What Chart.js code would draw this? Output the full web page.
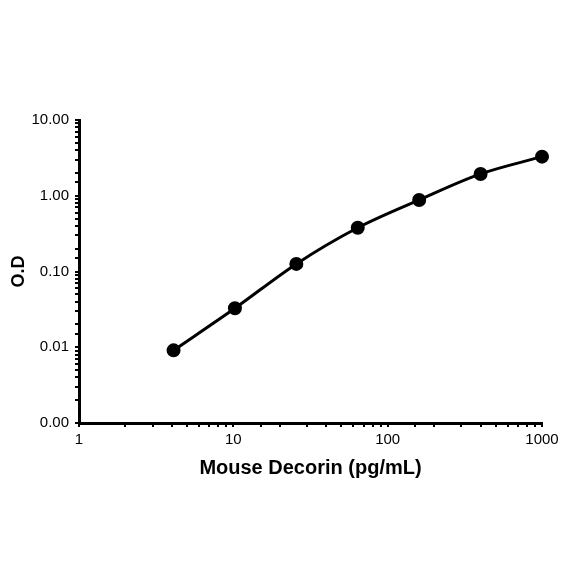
<!DOCTYPE html>
<html>
<head>
<meta charset="utf-8">
<script src="https://cdn.jsdelivr.net/npm/chart.js@4"></script>
<style>
  html, body { margin: 0; padding: 0; background: #fff; }
  #wrap { width: 584px; height: 584px; }
</style>
</head>
<body>
<div id="wrap"><canvas id="c" width="584" height="584"></canvas></div>
<script>
// standard curve
const concentrations = [4.1, 10.24, 25.6, 64, 160, 400, 1000]
const odValues = [0.0091, 0.0327, 0.126, 0.378, 0.88, 1.94, 3.28]
const xTitle = 'Mouse Decorin (pg/mL)'
const yTitle = 'O.D'

const isDecade = v => {
  const lg = Math.log10(v)
  return Math.abs(lg - Math.round(lg)) < 1e-6
}

const font = 'Liberation Sans, Arial, sans-serif'

new Chart(document.getElementById('c'), {
  type: 'line',
  data: {
    datasets: [{
      data: concentrations.map((x, i) => ({ x, y: odValues[i] })),
      borderColor: '#000',
      backgroundColor: '#000',
      borderWidth: 3,
      pointRadius: 5.5,
      pointHoverRadius: 5.5,
      tension: 0.4,
      cubicInterpolationMode: 'monotone',
      clip: false
    }]
  },
  options: {
    responsive: false,
    animation: false,
    layout: { padding: { top: 120, right: 42, bottom: 104, left: 8 } },
    plugins: { legend: { display: false }, tooltip: { enabled: false } },
    scales: {
      x: {
        type: 'logarithmic',
        min: 1,
        max: 1000,
        afterFit: s => { s.height = 57 },
        border: { display: true, color: '#000', width: 3 },
        grid: { display: true, drawOnChartArea: false, drawTicks: true, tickLength: 4, color: '#000', lineWidth: 2 },
        ticks: {
          color: '#000',
          font: { family: font, size: 15 },
          padding: 4,
          autoSkip: false,
          maxRotation: 0,
          callback: v => isDecade(v) ? String(Math.round(v)) : ''
        },
        title: { display: true, text: xTitle, color: '#000', font: { family: font, size: 20, weight: 'bold' }, padding: { top: 2, bottom: 0 } }
      },
      y: {
        type: 'logarithmic',
        min: 0.001,
        max: 10,
        afterFit: s => { s.width = 71 },
        border: { display: true, color: '#000', width: 3 },
        grid: { display: true, drawOnChartArea: false, drawTicks: true, tickLength: 4, color: '#000', lineWidth: 2 },
        ticks: {
          color: '#000',
          font: { family: font, size: 15 },
          padding: 6,
          autoSkip: false,
          callback: v => isDecade(v) ? Number(v).toFixed(2) : ''
        },
        title: { display: true, text: yTitle, color: '#000', font: { family: font, size: 18, weight: 'bold' }, padding: { top: 0, bottom: 0 } }
      }
    }
  }
})
</script>
</body>
</html>
